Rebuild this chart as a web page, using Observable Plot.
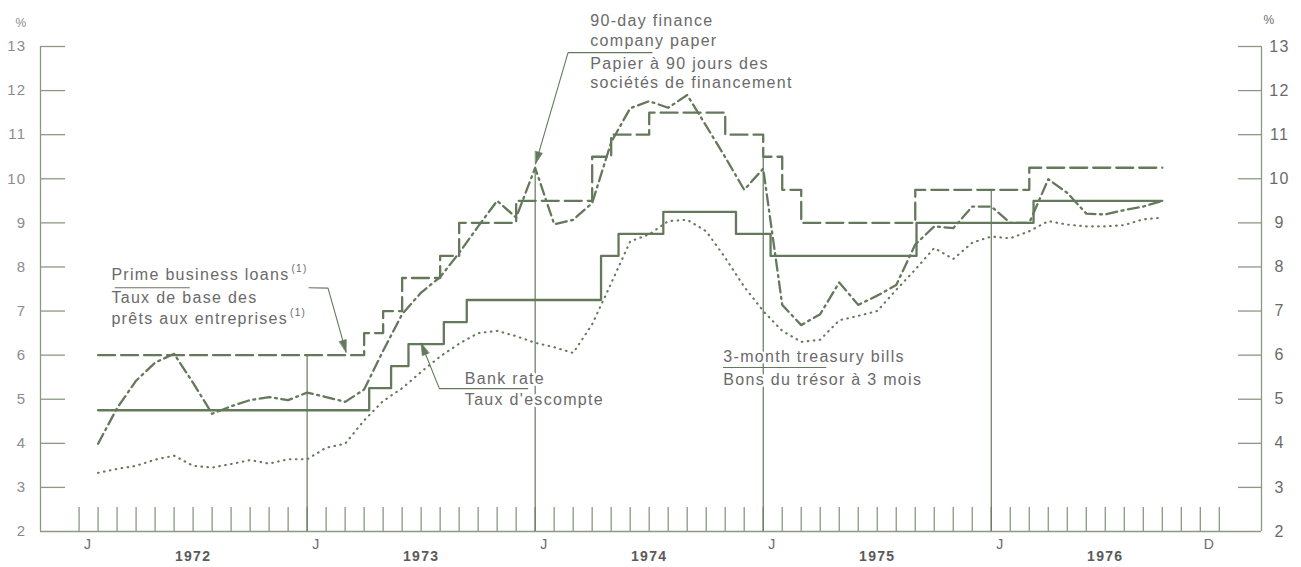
<!DOCTYPE html>
<html><head><meta charset="utf-8">
<script src="https://cdn.jsdelivr.net/npm/d3@7"></script>
<script src="https://cdn.jsdelivr.net/npm/@observablehq/plot@0.6"></script>
<style>
html,body{margin:0;padding:0;background:#fff;}
#chart svg text{letter-spacing:1.3px;}
</style></head><body><div id="chart"></div>
<script>
// ---------- data ----------
// monthly series, Jan 1972 .. Sep 1976 (plotted at month end)
const firstMonth = "1972-01-01", lastMonthExclusive = "1976-10-01";
const paper = [3.99,4.8,5.42,5.83,6.03,5.37,4.67,4.84,4.98,5.05,4.98,5.15,
  5.05,4.94,5.22,6.1,6.93,7.42,7.77,8.32,8.92,9.5,9.12,10.25,
  8.97,9.07,9.45,10.83,11.6,11.76,11.61,11.9,11.2,10.49,9.75,10.23,
  7.14,6.68,6.93,7.65,7.14,7.35,7.59,8.51,8.92,8.88,9.37,9.37,
  9.0,9.0,9.99,9.68,9.21,9.19,9.29,9.37,9.5];
const tbills = [3.33,3.42,3.49,3.63,3.72,3.49,3.45,3.53,3.62,3.54,3.64,3.64,
  3.9,3.99,4.52,4.96,5.25,5.62,5.97,6.26,6.5,6.55,6.43,6.28,
  6.18,6.05,6.7,7.63,8.58,8.74,9.04,9.07,8.81,8.21,7.55,7.0,
  6.55,6.3,6.35,6.79,6.89,7.0,7.48,7.94,8.43,8.18,8.55,8.69,
  8.65,8.81,9.04,8.96,8.92,8.92,8.95,9.08,9.12];
// step series: date of each change and new level
const primeDates = ["1972-02-01","1973-04-01","1973-05-01","1973-06-01","1973-08-01","1973-09-01","1973-12-01","1974-04-01","1974-05-01","1974-07-01","1974-11-01","1975-01-01","1975-02-01","1975-03-01","1975-09-01","1976-03-01","1976-10-01"];
const primeRates = [6.0,6.5,7.0,7.75,8.25,9.0,9.5,10.5,11.0,11.5,11.0,10.5,9.75,9.0,9.75,10.25,10.25];
const bankDates = ["1972-02-01","1973-04-09","1973-05-14","1973-06-11","1973-08-07","1973-09-13","1974-04-15","1974-05-13","1974-07-24","1974-11-18","1975-01-13","1975-09-03","1976-03-08","1976-10-01"];
const bankRates = [4.75,5.25,5.75,6.25,6.75,7.25,8.25,8.75,9.25,8.75,8.25,9.0,9.5,9.5];
// axis labels
const yTickValues = [2,3,4,5,6,7,8,9,10,11,12,13];
const monthLabelText = ["J","J","J","J","J","D"];
const monthLabelDates = ["1972-01-16","1973-01-16","1974-01-16","1975-01-16","1976-01-16","1976-12-16"];
const yearLabelText = ["1972","1973","1974","1975","1976"];
const yearLabelDates = ["1972-07-01","1973-07-01","1974-07-01","1975-07-01","1976-07-01"];
const yearRuleDates = ["1973-01-01","1974-01-01","1975-01-01","1976-01-01"];
// annotation text
const noteText = ["90-day finance","company paper","Papier à 90 jours des","sociétés de financement",
  "Prime business loans","Taux de base des","prêts aux entreprises",
  "Bank rate","Taux d'escompte","3-month treasury bills","Bons du trésor à 3 mois"];
const noteFootnote = ["","","","","(1)","","(1)","","","",""];

// ---------- layout ----------
const W = 1301, H = 567;
const mL = 40, mR = 40, mT = 46, mB = 36;
const xDomain = [-2.03, 62.22];   // month index (0 = start of Jan 1972)
const yDomain = [2, 13];
const pxM = (W - mL - mR) / (xDomain[1] - xDomain[0]);
const pxU = (H - mT - mB) / (yDomain[1] - yDomain[0]);
const ink = "#64795b", axisInk = "#8b9884", txt = "#6a6a6a";
const font = "'Liberation Sans', Arial, Helvetica, sans-serif";
const noteSize = 16, spacing = 1.3;

// annotation placement (month index, value)
const noteX = [26.9,26.9,26.9,26.9, 1.7,1.7,1.7, 20.3,20.3, 33.9,33.9];
const noteY = [13.59,13.12,12.61,12.18, 7.83,7.31,6.83, 5.47,4.99, 5.95,5.45];
const leaders = [
  [[30.15,12.86],[25.73,12.86],[24.02,10.34]],
  [[12.1,7.53],[13.1,7.52],[14.05,6.07]],
  [[23.61,5.24],[18.96,5.24],[18.0,6.27]]
];
const rulesUnder = [
  [[1.9,7.53],[5.8,7.53]],
  [[33.9,5.72],[39.3,5.72]]
];

// ---------- helpers ----------
const parse = s => new Date(s + "T00:00:00Z");
function mIdx(date) {
  const y = date.getUTCFullYear(), m = date.getUTCMonth(), d = date.getUTCDate();
  const days = new Date(Date.UTC(y, m + 1, 0)).getUTCDate();
  return (y - 1972) * 12 + m + (d - 1) / days;
}
const months = d3.utcMonths(parse(firstMonth), parse(lastMonthExclusive));
const paperData = paper.map((v, i) => ({k: mIdx(months[i]) + 1, v}));
const tbillData = tbills.map((v, i) => ({k: mIdx(months[i]) + 1, v}));
const primeData = primeDates.map((d, i) => ({k: mIdx(parse(d)), v: primeRates[i]}));
const bankData = bankDates.map((d, i) => ({k: mIdx(parse(d)), v: bankRates[i]}));
function stepAt(data, k) { let v = data[0].v; for (const d of data) if (d.k <= k + 1e-9) v = d.v; return v; }
const yearRules = yearRuleDates.map(s => {
  const k = mIdx(parse(s));
  const p = paperData.find(d => Math.abs(d.k - k) < 0.01);
  return {k, top: Math.max(stepAt(primeData, k), p ? p.v : 0)};
});
const monthTicks = d3.range(0, 61);
const notes = noteText.map((t, i) => ({t, x: noteX[i], y: noteY[i]}));
// footnote markers placed right after their text
const measure = document.createElement("canvas").getContext("2d");
measure.font = `${noteSize}px 'Liberation Sans', Arial, sans-serif`;
const sups = noteText.map((t, i) => {
  if (!noteFootnote[i]) return null;
  const w = measure.measureText(t).width + spacing * t.length;
  return {t: noteFootnote[i], x: noteX[i] + (w + 2) / pxM, y: noteY[i] + 6 / pxU};
}).filter(d => d);
const leaderSegs = leaders.flatMap((pts, j) => pts.map(p => ({g: "L" + j, x: p[0], y: p[1]})));
const underSegs = rulesUnder.flatMap((pts, j) => pts.map(p => ({g: "U" + j, x: p[0], y: p[1]})));
const heads = leaders.map(pts => {
  const a = pts[pts.length - 2], b = pts[pts.length - 1];
  const dx = (b[0] - a[0]) * pxM, dy = -(b[1] - a[1]) * pxU;
  return {x: b[0], y: b[1], r: Math.atan2(dx, -dy) * 180 / Math.PI};
});
const headShape = {draw(ctx, l) { ctx.moveTo(0, -l); ctx.lineTo(-3.6, 0); ctx.lineTo(3.6, 0); ctx.closePath(); }};

const chart = Plot.plot({
  width: W, height: H,
  marginLeft: mL, marginRight: mR, marginTop: mT, marginBottom: mB,
  x: {domain: xDomain, axis: null},
  y: {domain: yDomain, axis: null},
  style: {background: "#fff", fontFamily: font, color: txt, overflow: "visible"},
  marks: [
    // frame and ticks
    Plot.ruleX([xDomain[0], xDomain[1]], {y1: 2, y2: 13, stroke: axisInk, strokeWidth: 1.3}),
    Plot.ruleY([2], {stroke: axisInk, strokeWidth: 1.3}),
    Plot.ruleY(yTickValues.slice(1), {x1: xDomain[0], x2: xDomain[0] + 25 / pxM, stroke: axisInk, strokeWidth: 1.3}),
    Plot.ruleY(yTickValues.slice(1), {x1: xDomain[1] - 23 / pxM, x2: xDomain[1], stroke: axisInk, strokeWidth: 1.3}),
    Plot.ruleX(monthTicks, {y1: 2, y2: 2 + 24 / pxU, stroke: axisInk, strokeWidth: 1.3}),
    Plot.ruleX(yearRules, {x: "k", y1: 2, y2: "top", stroke: ink, strokeWidth: 1.2}),
    // axis labels
    Plot.text(yTickValues, {y: d => d, text: d => String(d), frameAnchor: "left", dx: -14, textAnchor: "end", fontSize: 15, fill: "#8c8c8c"}),
    Plot.text(yTickValues, {y: d => d, text: d => String(d), frameAnchor: "right", dx: 18, textAnchor: "middle", fontSize: 16, fill: txt}),
    Plot.text(["%"], {frameAnchor: "top-left", dx: -25, dy: -28, fontSize: 12, fill: "#8c8c8c"}),
    Plot.text(["%"], {frameAnchor: "top-right", dx: 14, dy: -31, fontSize: 12, fill: txt}),
    Plot.text(monthLabelText, {x: (d, i) => mIdx(parse(monthLabelDates[i])), text: d => d, frameAnchor: "bottom", dy: 17, fontSize: 14, fill: txt}),
    Plot.text(yearLabelText, {x: (d, i) => mIdx(parse(yearLabelDates[i])), text: d => d, frameAnchor: "bottom", dy: 29, fontSize: 14, fontWeight: "bold", fill: "#5a5a5a"}),
    // series
    Plot.line(tbillData, {x: "k", y: "v", stroke: ink, strokeWidth: 2.1, strokeDasharray: "0.6,5.4", strokeLinecap: "round"}),
    Plot.line(bankData, {x: "k", y: "v", curve: "step-after", stroke: ink, strokeWidth: 2.3}),
    Plot.line(primeData, {x: "k", y: "v", curve: "step-after", stroke: ink, strokeWidth: 2.3, strokeDasharray: "17,6"}),
    Plot.line(paperData, {x: "k", y: "v", stroke: ink, strokeWidth: 2.3, strokeDasharray: "11,4.5,2,4.5"}),
    // annotations
    Plot.text(notes, {x: "x", y: "y", text: "t", textAnchor: "start", fontSize: noteSize, fill: txt, stroke: "#fff", strokeWidth: 5}),
    Plot.text(sups, {x: "x", y: "y", text: "t", textAnchor: "start", fontSize: 10, fill: txt}),
    Plot.line(leaderSegs, {x: "x", y: "y", z: "g", stroke: ink, strokeWidth: 1.1}),
    Plot.line(underSegs, {x: "x", y: "y", z: "g", stroke: ink, strokeWidth: 1.1}),
    Plot.vector(heads, {x: "x", y: "y", rotate: "r", length: 12, anchor: "end", shape: headShape, fill: ink, stroke: ink, strokeWidth: 0.6})
  ]
});
document.getElementById("chart").appendChild(chart);
</script></body></html>
